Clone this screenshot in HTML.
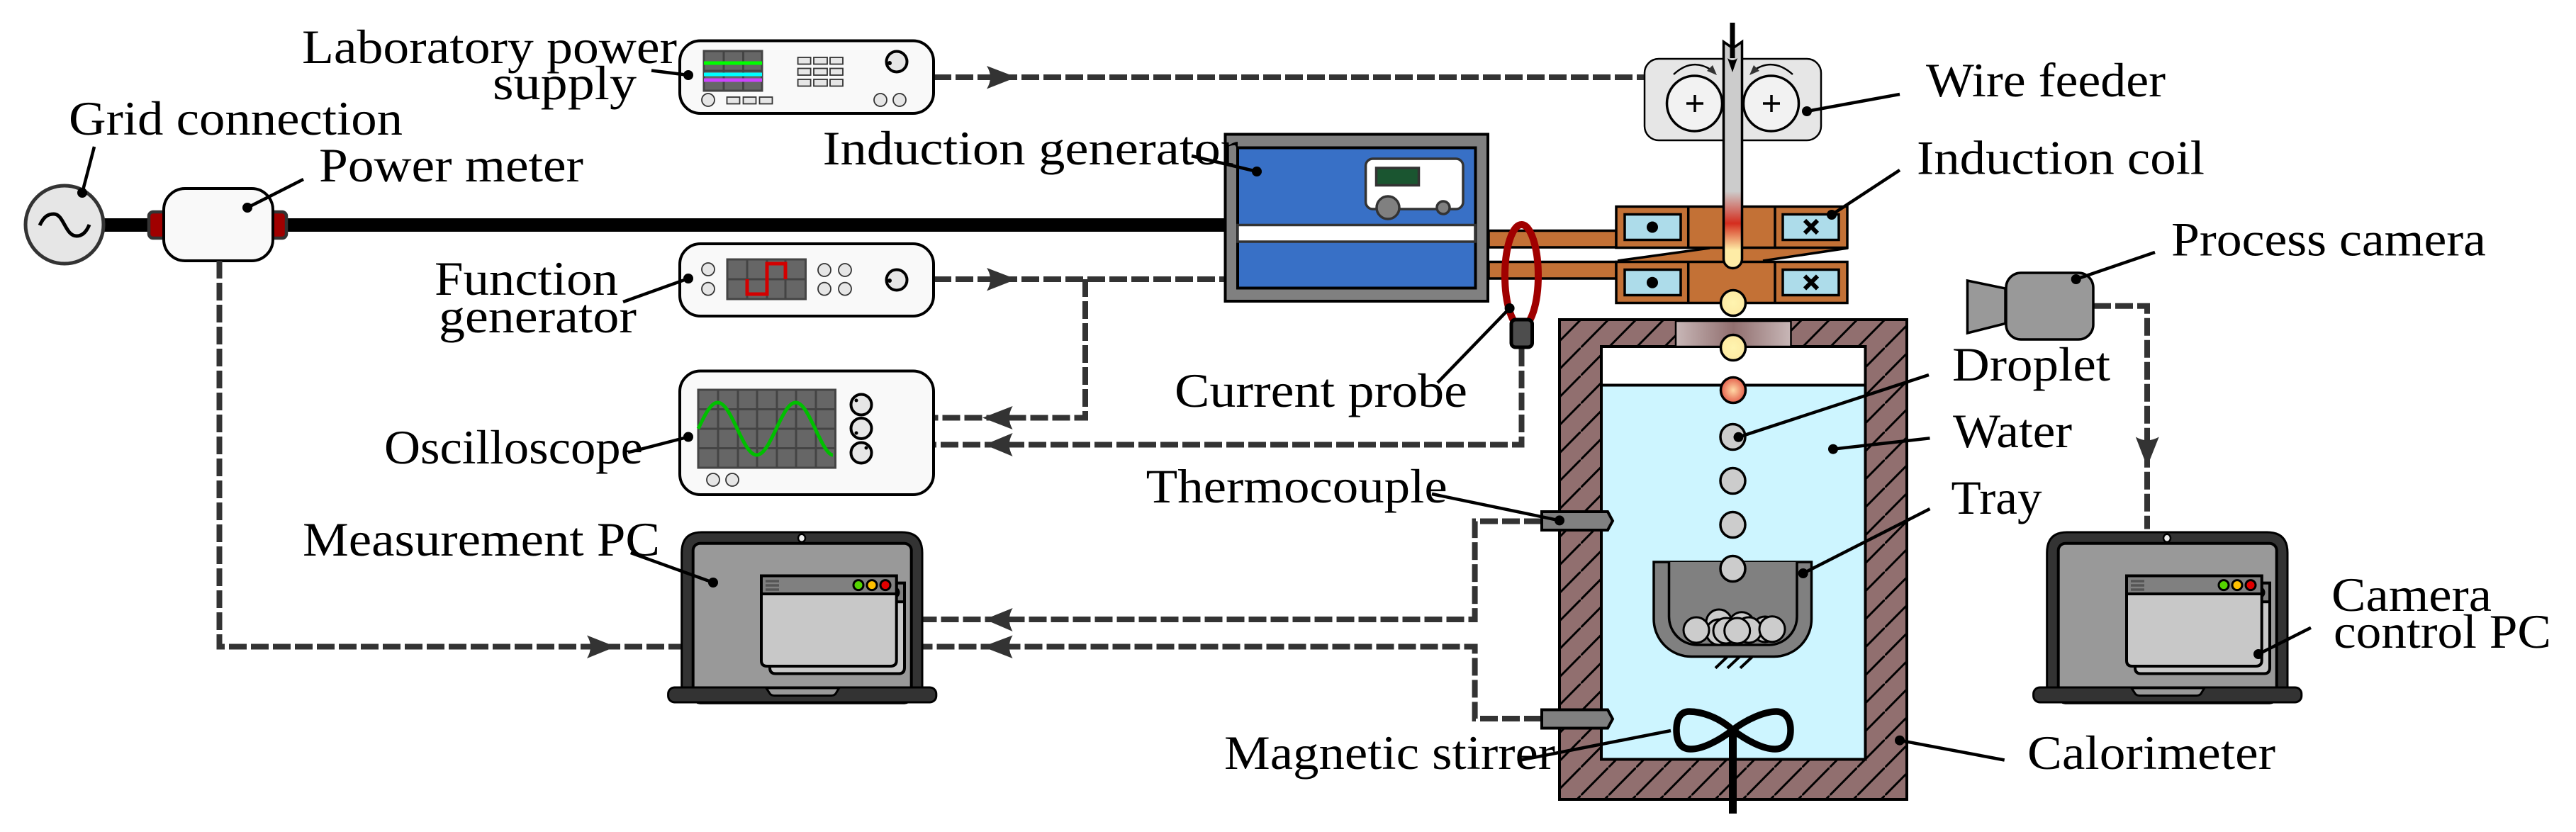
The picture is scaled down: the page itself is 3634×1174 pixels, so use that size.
<!DOCTYPE html>
<html lang="en">
<head>
<meta charset="utf-8">
<title>Experimental setup</title>
<style>
html,body{margin:0;padding:0;background:#fff;width:3634px;height:1174px;overflow:hidden}
svg{display:block}
text{font-family:"Liberation Serif",serif;font-size:68px;fill:#000}
.dash{fill:none;stroke:#333;stroke-width:8;stroke-dasharray:25 6}
.lead{stroke:#000;stroke-width:4.5;fill:none}
.sm{fill:#e6e6e6;stroke:#333;stroke-width:1.8}
.dev{fill:#f9f9f9;stroke:#000;stroke-width:4}
.knob{fill:#e6e6e6;stroke:#000;stroke-width:4}
.scr{fill:#666;stroke:#444;stroke-width:3}
.grid{stroke:#444;stroke-width:3;fill:none}
.drop{stroke:#000;stroke-width:3.5}
</style>
</head>
<body>
<svg xmlns="http://www.w3.org/2000/svg" width="3634" height="1174" viewBox="0 0 3634 1174">
<defs>
<pattern id="hatch" patternUnits="userSpaceOnUse" x="2191" y="451" width="39" height="39.5">
<rect width="39" height="39.5" fill="#916f6f"/>
<path d="M-3,42.5 L42,-3" stroke="#000" stroke-width="3" fill="none"/>
</pattern>
<linearGradient id="wire" gradientUnits="userSpaceOnUse" x1="0" y1="57" x2="0" y2="380">
<stop offset="0" stop-color="#ccc"/><stop offset=".659" stop-color="#ccc"/>
<stop offset=".799" stop-color="#d42d1e"/><stop offset=".916" stop-color="#feeca6"/><stop offset="1" stop-color="#feeca6"/>
</linearGradient>
<linearGradient id="vent" x1="0" y1="0" x2="1" y2="0">
<stop offset="0" stop-color="#c8b7b7"/><stop offset=".5" stop-color="#916f6f"/><stop offset="1" stop-color="#c8b7b7"/>
</linearGradient>
<radialGradient id="yel"><stop offset="0" stop-color="#fff4b0"/><stop offset="1" stop-color="#fdeaa2"/></radialGradient>
<radialGradient id="hot"><stop offset="0" stop-color="#ffd9a6"/><stop offset="1" stop-color="#e4604c"/></radialGradient>
<g id="laptop">
<path d="M961.7,970 V780 Q961.7,751 990,751 H1272 Q1301,751 1301,780 V970 Z" fill="#333" stroke="#000" stroke-width="3"/>
<rect x="977.7" y="766.7" width="308" height="225" rx="10" fill="#999" stroke="#000" stroke-width="4"/>
<rect x="942.6" y="970" width="378.2" height="21" rx="9" fill="#333" stroke="#000" stroke-width="3"/>
<path d="M1081,971 L1085,977 Q1087,981.5 1092,981.5 H1173 Q1178,981.5 1180,977 L1183.7,971 Z" fill="#999" stroke="#000" stroke-width="3"/>
<ellipse cx="1131" cy="759.3" rx="5" ry="5.5" fill="#eee" stroke="#000" stroke-width="2.5"/>
<path d="M1086,822.7 H1276 V942 Q1276,950.5 1268,950.5 H1094 Q1086,950.5 1086,942 Z" fill="#c8c8c8" stroke="#000" stroke-width="4"/>
<rect x="1086" y="822.7" width="190" height="26.5" fill="#808080" stroke="#000" stroke-width="4"/>
<circle cx="1261" cy="836" r="7" fill="#e00000" stroke="#000" stroke-width="3"/>
<path d="M1074,812.5 H1264.7 V932 Q1264.7,940 1256,940 H1082 Q1074,940 1074,932 Z" fill="#c8c8c8" stroke="#000" stroke-width="4"/>
<rect x="1074" y="812.5" width="190.7" height="25.5" fill="#808080" stroke="#000" stroke-width="4"/>
<path d="M1080,820 H1099 M1080,826 H1099 M1080,832 H1099" stroke="#555" stroke-width="3.5"/>
<circle cx="1211" cy="825.6" r="7" fill="#55d400" stroke="#000" stroke-width="3"/>
<circle cx="1230" cy="825.6" r="7" fill="#ffc000" stroke="#000" stroke-width="3"/>
<circle cx="1249" cy="825.6" r="7" fill="#e00000" stroke="#000" stroke-width="3"/>
</g>
<g id="thermo">
<path d="M2175,722 H2268 L2275,735 L2268,748 H2175 Z" fill="#808080" stroke="#000" stroke-width="4"/>
</g>
</defs>
<rect width="3634" height="1174" fill="#fff"/>

<!-- mains cable -->
<rect x="147" y="308" width="1582" height="19" fill="#000"/>
<!-- grid source -->
<circle cx="91" cy="317" r="55" fill="#e6e6e6" stroke="#333" stroke-width="5"/>
<path d="M56,318 C62,305 68,302 76,302 C90,302 92,333 108,333 C116,333 122,327 126,317" fill="none" stroke="#000" stroke-width="5"/>
<!-- power meter -->
<rect x="210" y="299" width="40" height="37" rx="6" fill="#a00000" stroke="#333" stroke-width="4.5"/>
<rect x="365" y="299" width="39" height="37" rx="6" fill="#a00000" stroke="#333" stroke-width="4.5"/>
<rect x="231" y="266" width="154" height="102" rx="30" fill="#f9f9f9" stroke="#000" stroke-width="4"/>

<!-- dashed connectors -->
<path class="dash" d="M1317,109 H2320"/>
<path class="dash" d="M1317,394 H1727"/>
<path class="dash" d="M1531,394 V589.5 H1317"/>
<path class="dash" d="M2146.5,492 V627.5 H1317"/>
<path class="dash" d="M309.5,368 V912.5 H961"/>
<path class="dash" d="M2175,735.5 H2080.6 V874 H1301"/>
<path class="dash" d="M2175,1014 H2080.6 V912.5 H1301"/>
<path class="dash" d="M2953,431.7 H3029 V746.5"/>

<!-- arrowheads -->
<g fill="#333">
<path d="M1434,109 L1392,93 Q1402,109 1392,125.5 Z"/>
<path d="M1434,394 L1392,378 Q1402,394 1392,410.5 Z"/>
<path d="M1386,589.5 L1428.6,573 Q1419,589.5 1428.6,606 Z"/>
<path d="M1389,627.5 L1428.6,611 Q1419,627.5 1428.6,644 Z"/>
<path d="M1389,874 L1428.6,858 Q1419,874 1428.6,891 Z"/>
<path d="M1386,912.5 L1428.6,896.5 Q1419,912.5 1428.6,929 Z"/>
<path d="M868.6,912.5 L828,896.5 Q838,912.5 828,929 Z"/>
<path d="M3029,658.6 L3012.8,616.5 Q3029,626 3045.7,616.5 Z"/>
</g>

<!-- lab power supply -->
<rect class="dev" x="959" y="57.5" width="358" height="102.5" rx="29"/>
<rect class="scr" x="993" y="72" width="82" height="56"/>
<path class="grid" d="M1021,72 V128 M1048.5,72 V128 M993,100 H1075"/>
<path d="M993,89 H1075" stroke="#00ff00" stroke-width="5"/>
<path d="M993,105 H1075" stroke="#00ffff" stroke-width="5"/>
<path d="M993,113 H1075" stroke="#cc44ff" stroke-width="5"/>
<g class="sm">
<rect x="1125.6" y="81" width="18" height="9.5"/><rect x="1148" y="81" width="19" height="9.5"/><rect x="1171" y="81" width="18" height="9.5"/>
<rect x="1125.6" y="96.5" width="18" height="9.5"/><rect x="1148" y="96.5" width="19" height="9.5"/><rect x="1171" y="96.5" width="18" height="9.5"/>
<rect x="1125.6" y="112" width="18" height="9.5"/><rect x="1148" y="112" width="19" height="9.5"/><rect x="1171" y="112" width="18" height="9.5"/>
<rect x="1025.5" y="137" width="18" height="9.5"/><rect x="1048.5" y="137" width="18" height="9.5"/><rect x="1071.5" y="137" width="18" height="9.5"/>
<circle cx="999" cy="141" r="9"/><circle cx="1242" cy="141" r="9"/><circle cx="1269" cy="141" r="9"/>
</g>
<circle class="knob" cx="1265" cy="87" r="14.5"/><circle cx="1255" cy="89" r="3" fill="#000"/>

<!-- function generator -->
<rect class="dev" x="959" y="344" width="358" height="102" rx="29"/>
<rect class="scr" x="1026" y="366" width="110.5" height="56"/>
<path class="grid" d="M1054,366 V422 M1082,366 V422 M1108,366 V422 M1026,394 H1136"/>
<path d="M1054,394 V415 H1082 V372 H1108 V394" fill="none" stroke="#d40000" stroke-width="5"/>
<g class="sm">
<circle cx="999" cy="380" r="9"/><circle cx="999" cy="407.6" r="9"/>
<circle cx="1163" cy="381" r="9"/><circle cx="1192" cy="381" r="9"/><circle cx="1163" cy="407.6" r="9"/><circle cx="1192" cy="407.6" r="9"/>
</g>
<circle class="knob" cx="1265" cy="395" r="14.5"/><circle cx="1255" cy="396" r="3" fill="#000"/>

<!-- oscilloscope -->
<rect class="dev" x="959" y="523.5" width="358" height="174.5" rx="29"/>
<rect class="scr" x="985" y="550" width="193.5" height="110"/>
<path class="grid" d="M1013,550 V660 M1041,550 V660 M1068,550 V660 M1096,550 V660 M1123,550 V660 M1151,550 V660 M985,577.5 H1178 M985,605 H1178 M985,632.5 H1178"/>
<path d="M985,605 c9,-19 17.5,-37 27.5,-37 c10,0 18.5,18 27.5,37 c9,19 17.5,37 27.5,37 c10,0 18.5,-18 27.5,-37 c9,-19 17.5,-37 27.5,-37 c10,0 18.5,18 27.5,37 c9,19 17.5,37 25,37" fill="none" stroke="#00bf00" stroke-width="5"/>
<circle class="knob" cx="1215" cy="571" r="14.5"/><circle class="knob" cx="1215" cy="604.5" r="14.5"/><circle class="knob" cx="1215" cy="639" r="14.5"/>
<circle cx="1208" cy="565" r="2.5" fill="#000"/><circle cx="1208" cy="611" r="2.5" fill="#000"/><circle cx="1222" cy="632" r="2.5" fill="#000"/>
<g class="sm"><circle cx="1006" cy="677" r="9"/><circle cx="1033" cy="677" r="9"/></g>

<!-- induction generator -->
<rect x="1728.5" y="189.5" width="370.5" height="235.5" fill="#808080" stroke="#000" stroke-width="4"/>
<rect x="1746" y="208.5" width="335.5" height="198" fill="#3870c6" stroke="#000" stroke-width="4"/>
<rect x="1746" y="317.5" width="335" height="23.5" fill="#fff" stroke="#333" stroke-width="3.5"/>
<rect x="1926.6" y="224" width="137.4" height="71" rx="10" fill="#fff" stroke="#333" stroke-width="3.5"/>
<rect x="1941.5" y="237" width="60" height="24.5" fill="#1a5530" stroke="#333" stroke-width="3.5"/>
<circle cx="1958" cy="293" r="16" fill="#808080" stroke="#333" stroke-width="3.5"/>
<circle cx="2036" cy="293" r="9" fill="#808080" stroke="#333" stroke-width="3.5"/>

<!-- coil bus bars -->
<rect x="2100" y="325.5" width="180" height="23.5" fill="#c37136" stroke="#000" stroke-width="3.5"/>
<rect x="2100" y="369.5" width="180" height="23.5" fill="#c37136" stroke="#000" stroke-width="3.5"/>
<!-- current probe -->
<ellipse cx="2146.5" cy="389" rx="23.5" ry="72" fill="none" stroke="#a00000" stroke-width="10"/>
<rect x="2132" y="451" width="29.5" height="39" rx="6" fill="#4d4d4d" stroke="#000" stroke-width="5"/>

<!-- coil -->
<path d="M2282,368 L2412,350 H2607 L2487,368 Z" fill="#c37136"/>
<path d="M2282,368 L2412,350 M2487,368 L2607,350" stroke="#000" stroke-width="3.5" fill="none"/>
<g fill="#c37136" stroke="#000" stroke-width="3.5">
<rect x="2280" y="291.5" width="326" height="58"/>
<rect x="2280" y="369.5" width="326" height="58"/>
</g>
<path d="M2381.7,291 V350 M2504,291 V350 M2381.7,369 V428 M2504,369 V428" stroke="#000" stroke-width="3.5"/>
<g fill="#addcea" stroke="#000" stroke-width="3.5">
<rect x="2292" y="302.5" width="79" height="36"/>
<rect x="2515" y="302.5" width="79" height="36"/>
<rect x="2292" y="380.5" width="79" height="36"/>
<rect x="2515" y="380.5" width="79" height="36"/>
</g>
<circle cx="2331" cy="320.5" r="8" fill="#000"/><circle cx="2331" cy="398.7" r="8" fill="#000"/>
<path d="M2546,311 L2564,329 M2564,311 L2546,329 M2546,389.5 L2564,407.5 M2564,389.5 L2546,407.5" stroke="#000" stroke-width="6"/>

<!-- wire feeder -->
<rect x="2320" y="83" width="249" height="115" rx="20" fill="#e6e6e6" stroke="#000" stroke-width="2.5"/>
<circle cx="2390.5" cy="146" r="39" fill="#f2f2f2" stroke="#000" stroke-width="3.5"/>
<circle cx="2498.5" cy="146" r="39" fill="#f2f2f2" stroke="#000" stroke-width="3.5"/>
<path d="M2379,146 H2403 M2391,134 V158 M2487,146 H2511 M2499,134 V158" stroke="#000" stroke-width="3.5"/>
<path d="M2361,105 Q2388,80 2416,100" fill="none" stroke="#000" stroke-width="2.5"/>
<path d="M2529,105 Q2501,80 2473,100" fill="none" stroke="#000" stroke-width="2.5"/>
<path d="M2422,106 L2416,92 L2408,100 Z" fill="#333"/>
<path d="M2468,106 L2474,92 L2482,100 Z" fill="#333"/>

<!-- wire -->
<path d="M2431.5,59 L2444.5,68 L2457.5,59 V365.5 A13,13 0 0 1 2431.5,365.5 Z" fill="url(#wire)" stroke="#000" stroke-width="3.5"/>
<rect x="2440.5" y="32" width="7" height="50" fill="#000"/>
<path d="M2444,102 L2437,82 Q2444,88 2451,82 Z" fill="#000"/>

<!-- calorimeter -->
<rect x="2200" y="451" width="490" height="677" fill="url(#hatch)" stroke="#000" stroke-width="4"/>
<rect x="2200" y="451" width="490" height="677" fill="none" stroke="#000" stroke-width="4"/>
<rect x="2259" y="489" width="372.5" height="582.5" fill="#fff" stroke="#000" stroke-width="4"/>
<rect x="2259" y="543.5" width="372.5" height="528" fill="#cdf5ff" stroke="#000" stroke-width="4"/>
<rect x="2364" y="453" width="162.5" height="36" fill="url(#vent)" stroke="#000" stroke-width="2.5"/>

<!-- thermocouples -->
<use href="#thermo"/>
<use href="#thermo" y="279.5"/>

<!-- tray -->
<path d="M2333,793 H2555.5 V873 A53,53 0 0 1 2502.5,926.5 H2386 A53,53 0 0 1 2333,873 Z" fill="#808080" stroke="#000" stroke-width="3.5"/>
<path d="M2354.5,793 V870 A40,40 0 0 0 2394,910 H2496 A40,40 0 0 0 2535,870 V793" fill="#808080" stroke="#000" stroke-width="3.5"/>
<path d="M2420,942.7 L2436.7,926.7 M2437,942.7 L2454,926.7 M2455,942.7 L2471.7,927" stroke="#000" stroke-width="4"/>
<g fill="#ccc" stroke="#000" stroke-width="3">
<circle cx="2425" cy="878" r="18"/><circle cx="2457" cy="881.7" r="18"/>
<circle cx="2425" cy="892" r="18"/><circle cx="2490" cy="888" r="18"/>
<circle cx="2467" cy="889" r="18"/><circle cx="2435" cy="890" r="18"/>
<circle cx="2393" cy="889" r="18"/><circle cx="2500" cy="887.7" r="18"/><circle cx="2450.7" cy="890" r="18"/>
</g>

<!-- droplets -->
<ellipse class="drop" cx="2445" cy="427.5" rx="17.5" ry="18" fill="url(#yel)"/>
<ellipse class="drop" cx="2445" cy="490.5" rx="17.5" ry="18" fill="url(#yel)"/>
<ellipse class="drop" cx="2445" cy="550.5" rx="17.5" ry="18" fill="url(#hot)"/>
<g class="drop" fill="#ccc">
<ellipse cx="2444.5" cy="616.5" rx="17.5" ry="18"/>
<ellipse cx="2444.5" cy="678.5" rx="17.5" ry="18"/>
<ellipse cx="2444.5" cy="740.5" rx="17.5" ry="18"/>
<ellipse cx="2444.5" cy="802.5" rx="17.5" ry="18"/>
</g>

<!-- stirrer -->
<rect x="2439" y="1029" width="11" height="119" fill="#000"/>
<path d="M2444.4,1030 C2425,1012 2400,1004 2383,1004 C2370,1004 2365,1015 2365,1030 C2365,1048 2372,1057 2385,1057 C2402,1057 2425,1045 2444.4,1030 C2464,1015 2489,1004 2506,1004 C2519,1004 2526,1015 2526,1030 C2526,1048 2517,1057 2504,1057 C2487,1057 2464,1045 2444.4,1030 Z" fill="none" stroke="#000" stroke-width="9.5"/>

<!-- camera -->
<path d="M2775.5,396 L2829,407 V456.5 L2775.5,470 Z" fill="#999" stroke="#000" stroke-width="3.5"/>
<rect x="2830" y="385" width="123" height="94" rx="21" fill="#999" stroke="#000" stroke-width="3.5"/>

<!-- laptops -->
<use href="#laptop"/>
<use href="#laptop" x="1926"/>

<!-- labels -->
<text x="426" y="89" textLength="529" lengthAdjust="spacingAndGlyphs">Laboratory power</text>
<text x="695" y="140" textLength="203" lengthAdjust="spacingAndGlyphs">supply</text>
<text x="97" y="190" textLength="471" lengthAdjust="spacingAndGlyphs">Grid connection</text>
<text x="450" y="256" textLength="373" lengthAdjust="spacingAndGlyphs">Power meter</text>
<text x="613" y="416" textLength="259" lengthAdjust="spacingAndGlyphs">Function</text>
<text x="619" y="469" textLength="279" lengthAdjust="spacingAndGlyphs">generator</text>
<text x="1160.7" y="232" textLength="586" lengthAdjust="spacingAndGlyphs">Induction generator</text>
<text x="1657" y="574" textLength="413" lengthAdjust="spacingAndGlyphs">Current probe</text>
<text x="2717" y="136" textLength="338" lengthAdjust="spacingAndGlyphs">Wire feeder</text>
<text x="2704" y="245.7" textLength="406" lengthAdjust="spacingAndGlyphs">Induction coil</text>
<text x="3063" y="360.5" textLength="444" lengthAdjust="spacingAndGlyphs">Process camera</text>
<text x="2754" y="537" textLength="223" lengthAdjust="spacingAndGlyphs">Droplet</text>
<text x="2755" y="631" textLength="168" lengthAdjust="spacingAndGlyphs">Water</text>
<text x="2752.5" y="725" textLength="128" lengthAdjust="spacingAndGlyphs">Tray</text>
<text x="3289" y="862" textLength="226" lengthAdjust="spacingAndGlyphs">Camera</text>
<text x="3292" y="914" textLength="307" lengthAdjust="spacingAndGlyphs">control PC</text>
<text x="2860" y="1085" textLength="350" lengthAdjust="spacingAndGlyphs">Calorimeter</text>
<text x="1727" y="1085" textLength="467" lengthAdjust="spacingAndGlyphs">Magnetic stirrer</text>
<text x="1616.7" y="709" textLength="425" lengthAdjust="spacingAndGlyphs">Thermocouple</text>
<text x="427" y="784" textLength="504" lengthAdjust="spacingAndGlyphs">Measurement PC</text>
<text x="542" y="654" textLength="365" lengthAdjust="spacingAndGlyphs">Oscilloscope</text>

<!-- leaders -->
<g class="lead">
<path d="M116,272 L133,207"/>
<path d="M349,293 L428,253"/>
<path d="M971,106 L919,99.5"/>
<path d="M971,393 L879,426"/>
<path d="M971,616.5 L886,638.5"/>
<path d="M1773,242 L1681,220"/>
<path d="M2129.6,435 L2028,540"/>
<path d="M2549,157 L2680,133"/>
<path d="M2584,303 L2680,240"/>
<path d="M2928.7,394 L3040,356"/>
<path d="M2452.5,616.8 L2721,529"/>
<path d="M2586,633.7 L2722.5,618.3"/>
<path d="M2543.7,809 L2722.5,718"/>
<path d="M2680,1044.7 L2827.7,1072.5"/>
<path d="M2357,1031 L2145.4,1072.5"/>
<path d="M2200,734.4 L2020,697"/>
<path d="M1006,822 L889.7,780"/>
<path d="M3186,923 L3260,885.7"/>
</g>
<g fill="#000">
<circle cx="116" cy="272" r="7"/><circle cx="349" cy="293" r="7"/>
<circle cx="971" cy="106" r="7"/><circle cx="971" cy="393" r="7"/><circle cx="971" cy="616.5" r="7"/>
<circle cx="1773" cy="242" r="7"/><circle cx="2129.6" cy="435" r="7"/>
<circle cx="2549" cy="157" r="7"/><circle cx="2584" cy="303" r="7"/><circle cx="2928.7" cy="394" r="7"/>
<circle cx="2452.5" cy="616.8" r="7"/><circle cx="2586" cy="633.7" r="7"/><circle cx="2543.7" cy="809" r="7"/>
<circle cx="2680" cy="1044.7" r="7"/><circle cx="2200" cy="734.4" r="7"/><circle cx="1006" cy="822" r="7"/><circle cx="3186" cy="923" r="7"/>
</g>
</svg>
</body>
</html>
